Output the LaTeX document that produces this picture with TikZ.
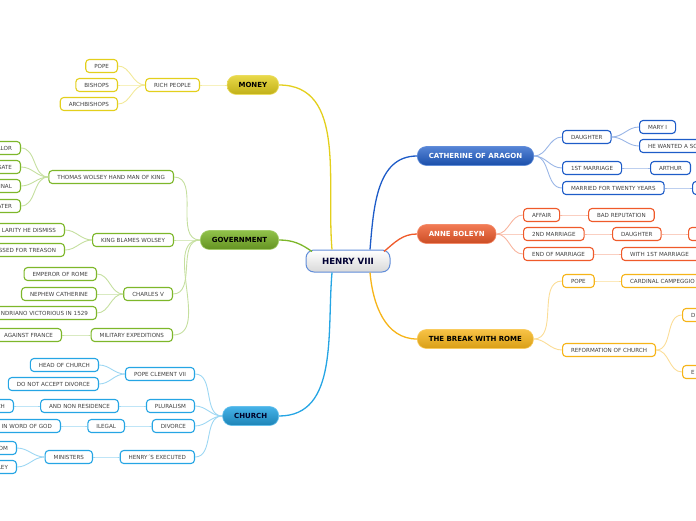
\documentclass[tikz,border=0pt]{standalone}
\usepackage{fontspec}
\setmainfont{DejaVu Sans}

\definecolor{moneyc}{HTML}{E3CF1C}
\definecolor{govc}{HTML}{7DB72A}
\definecolor{churchc}{HTML}{25A5E4}
\definecolor{cathc}{HTML}{1E5CC8}
\definecolor{annec}{HTML}{EF5A2A}
\definecolor{romec}{HTML}{F6B418}

\tikzset{
  leaf/.style={draw=#1, rounded corners=3.5pt, fill=white, line width=1.1pt,
    text=black!75, font=\fontsize{5.6}{6}\selectfont, minimum height=13pt,
    inner xsep=8.5pt, inner ysep=0pt},
  topic/.style={rounded corners=9pt, minimum height=19pt, inner xsep=11.5pt,
    inner ysep=0pt, font=\fontsize{7}{8}\selectfont\bfseries, line width=0.6pt},
  twig/.style={draw=#1!45, line width=0.9pt},
  bough/.style={draw=#1, line width=1.3pt},
  cutleft/.style={text width=130pt, align=right},
  cutright/.style={text width=100pt, align=left},
}

\begin{document}
\begin{tikzpicture}[x=1pt, y=-1pt]
    \useasboundingbox (0,0) rectangle (696,520);

    % Centre
    \node[rounded corners=8pt, draw=cathc!70, line width=1pt, top color=white,
      bottom color=black!15, minimum width=84pt, minimum height=22pt,
      font=\fontsize{8.6}{10}\selectfont\bfseries, text=black!80!blue] (henry) at (348,261) {HENRY VIII};

    % Main topics
    \node[topic, anchor=east, draw=moneyc!70, top color=moneyc!80!white, bottom color=moneyc!85!black, text=black] (money) at (279,85) {MONEY};
    \node[topic, anchor=east, draw=govc!70, top color=govc!85!white, bottom color=govc!80!black, text=black] (gov) at (279,240) {GOVERNMENT};
    \node[topic, anchor=east, draw=churchc!70, top color=churchc!85!white, bottom color=churchc!80!black, text=black!85!blue] (church) at (279,416) {CHURCH};
    \node[topic, anchor=west, draw=cathc!70, top color=cathc!75!white, bottom color=cathc!85!black, text=white] (cath) at (417,156) {CATHERINE OF ARAGON};
    \node[topic, anchor=west, draw=annec!70, top color=annec!80!white, bottom color=annec!85!black, text=white] (anne) at (417,234) {ANNE BOLEYN};
    \node[topic, anchor=west, draw=romec!70, top color=romec!80!white, bottom color=romec!88!black, text=black] (rome) at (417,339) {THE BREAK WITH ROME};

    % Money
    \node[leaf=moneyc, anchor=east] (rich) at (200,85) {RICH PEOPLE};
    \node[leaf=moneyc, anchor=east] (pope) at (118,66) {POPE};
    \node[leaf=moneyc, anchor=east] (bishops) at (118,85) {BISHOPS};
    \node[leaf=moneyc, anchor=east] (archbishops) at (118,104) {ARCHBISHOPS};

    % Government
    \node[leaf=govc, anchor=east] (wolsey) at (174,177) {THOMAS WOLSEY HAND MAN OF KING};
    \node[leaf=govc, anchor=east, cutleft] (chancellor) at (21,148) {LLOR};
    \node[leaf=govc, anchor=east, cutleft] (legate) at (21,167) {GATE};
    \node[leaf=govc, anchor=east, cutleft] (cardinal) at (21,186) {INAL};
    \node[leaf=govc, anchor=east, cutleft] (later) at (21,206) {ATER};
    \node[leaf=govc, anchor=east] (blames) at (174,240) {KING BLAMES WOLSEY};
    \node[leaf=govc, anchor=east, cutleft] (dismiss) at (65,230) {LARITY HE DISMISS};
    \node[leaf=govc, anchor=east, cutleft] (treason) at (65,250) {SSED FOR TREASON};
    \node[leaf=govc, anchor=east] (charles) at (173,294) {CHARLES V};
    \node[leaf=govc, anchor=east] (emperor) at (97,274) {EMPEROR OF ROME};
    \node[leaf=govc, anchor=east] (nephew) at (97,294) {NEPHEW CATHERINE};
    \node[leaf=govc, anchor=east, cutleft] (victorious) at (97,313) {NDRIANO VICTORIOUS IN 1529};
    \node[leaf=govc, anchor=east] (military) at (173,335) {MILITARY EXPEDITIONS};
    \node[leaf=govc, anchor=east] (france) at (62,335) {AGAINST FRANCE};

    % Church
    \node[leaf=churchc, anchor=east] (clement) at (195,374) {POPE CLEMENT VII};
    \node[leaf=churchc, anchor=east] (head) at (99,365) {HEAD OF CHURCH};
    \node[leaf=churchc, anchor=east] (accept) at (99,384) {DO NOT ACCEPT DIVORCE};
    \node[leaf=churchc, anchor=east] (pluralism) at (195,406) {PLURALISM};
    \node[leaf=churchc, anchor=east] (residence) at (119,406) {AND NON RESIDENCE};
    \node[leaf=churchc, anchor=east, cutleft] (rch) at (14,406) {CH};
    \node[leaf=churchc, anchor=east] (divorce) at (195,426) {DIVORCE};
    \node[leaf=churchc, anchor=east] (ilegal) at (125,426) {ILEGAL};
    \node[leaf=churchc, anchor=east, cutleft] (word) at (61,426) {IN WORD OF GOD};
    \node[leaf=churchc, anchor=east] (executed) at (195,457) {HENRY´S EXECUTED};
    \node[leaf=churchc, anchor=east] (ministers) at (93,457) {MINISTERS};
    \node[leaf=churchc, anchor=east, cutleft] (om) at (17,448) {OM};
    \node[leaf=churchc, anchor=east, cutleft] (ley) at (17,467) {LEY};

    % Catherine of Aragon
    \node[leaf=cathc, anchor=west] (daughter) at (562,137) {DAUGHTER};
    \node[leaf=cathc, anchor=west] (mary) at (639,127) {MARY I};
    \node[leaf=cathc, anchor=west, cutright] (son) at (639,146) {HE WANTED A SON};
    \node[leaf=cathc, anchor=west] (first) at (562,168) {1ST MARRIAGE};
    \node[leaf=cathc, anchor=west] (arthur) at (650,168) {ARTHUR};
    \node[leaf=cathc, anchor=west] (twenty) at (562,188) {MARRIED FOR TWENTY YEARS};
    \node[leaf=cathc, anchor=west, cutright] (twentynext) at (692,188) {};

    % Anne Boleyn
    \node[leaf=annec, anchor=west] (affair) at (523,215) {AFFAIR};
    \node[leaf=annec, anchor=west] (reputation) at (588,215) {BAD REPUTATION};
    \node[leaf=annec, anchor=west] (second) at (523,234) {2ND MARRIAGE};
    \node[leaf=annec, anchor=west] (annedaughter) at (612,234) {DAUGHTER};
    \node[leaf=annec, anchor=west, cutright] (elizabeth) at (688,234) {};
    \node[leaf=annec, anchor=west] (endmar) at (523,254) {END OF MARRIAGE};
    \node[leaf=annec, anchor=west, cutright] (withfirst) at (621,254) {WITH 1ST MARRIAGE};

    % The break with Rome
    \node[leaf=romec, anchor=west] (popeb) at (562,281) {POPE};
    \node[leaf=romec, anchor=west, cutright] (campeggio) at (621,281) {CARDINAL CAMPEGGIO};
    \node[leaf=romec, anchor=west] (reform) at (562,350) {REFORMATION OF CHURCH};
    \node[leaf=romec, anchor=west, cutright] (reformd) at (682,315) {D};
    \node[leaf=romec, anchor=west, cutright] (reforme) at (682,372) {E};

    % Boughs
    \draw[bough=moneyc] (money.east) to[out=0, in=95] ([xshift=-16pt]henry.north);
    \draw[bough=govc] (gov.east) to[out=0, in=145] ([xshift=-36pt, yshift=-2pt]henry.north);
    \draw[bough=churchc] (church.east) to[out=0, in=-95] ([xshift=-16pt]henry.south);
    \draw[bough=cathc] (cath.west) to[out=180, in=85] ([xshift=22pt]henry.north);
    \draw[bough=annec] (anne.west) to[out=180, in=40] ([xshift=36pt, yshift=-2pt]henry.north);
    \draw[bough=romec] (rome.west) to[out=180, in=-85] ([xshift=22pt]henry.south);

    % Twigs, left
    \foreach \a/\b in {money/rich, rich/pope, rich/bishops, rich/archbishops}
      \draw[twig=moneyc] (\a.west) to[out=180, in=0] (\b.east);
    \foreach \a/\b in {gov/wolsey, gov/blames, gov/charles, gov/military,
        wolsey/chancellor, wolsey/legate, wolsey/cardinal, wolsey/later,
        blames/dismiss, blames/treason, charles/emperor, charles/nephew,
        charles/victorious, military/france}
      \draw[twig=govc] (\a.west) to[out=180, in=0] (\b.east);
    \foreach \a/\b in {church/clement, church/pluralism, church/divorce, church/executed,
        clement/head, clement/accept, pluralism/residence, residence/rch,
        divorce/ilegal, ilegal/word, executed/ministers, ministers/om, ministers/ley}
      \draw[twig=churchc] (\a.west) to[out=180, in=0] (\b.east);

    % Twigs, right
    \foreach \a/\b in {cath/daughter, cath/first, cath/twenty, daughter/mary,
        daughter/son, first/arthur, twenty/twentynext}
      \draw[twig=cathc] (\a.east) to[out=0, in=180] (\b.west);
    \foreach \a/\b in {anne/affair, anne/second, anne/endmar, affair/reputation,
        second/annedaughter, annedaughter/elizabeth, endmar/withfirst}
      \draw[twig=annec] (\a.east) to[out=0, in=180] (\b.west);
    \foreach \a/\b in {rome/popeb, rome/reform, popeb/campeggio, reform/reformd, reform/reforme}
      \draw[twig=romec] (\a.east) to[out=0, in=180] (\b.west);
\end{tikzpicture}
\end{document}
